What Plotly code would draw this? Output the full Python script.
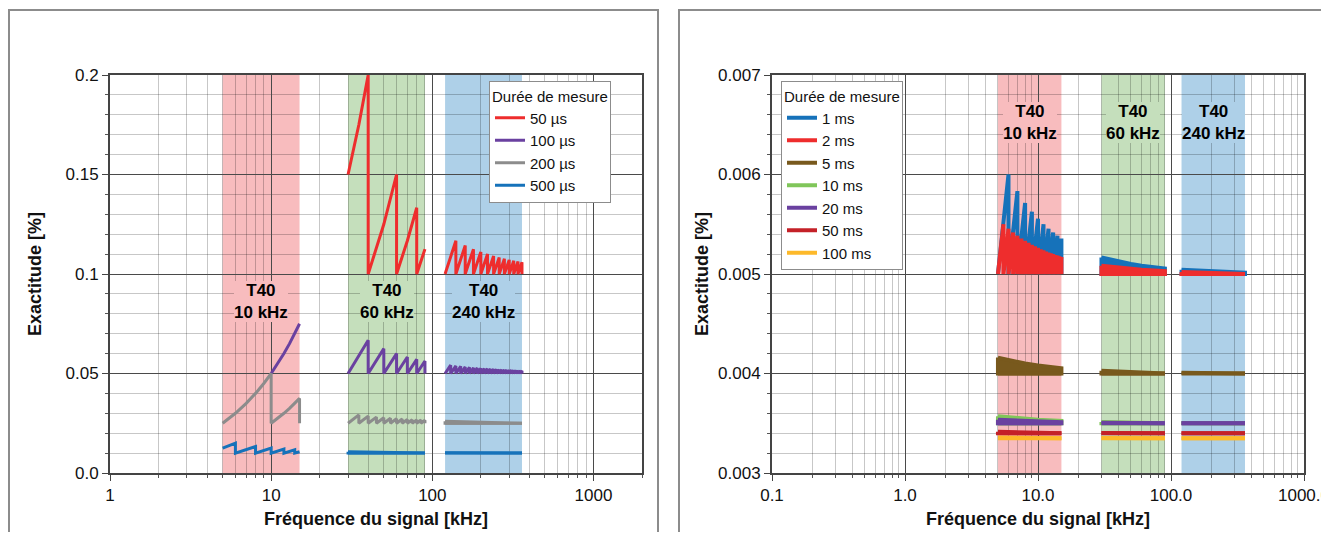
import math
import plotly.graph_objects as go

FONT = "Liberation Sans, Arial, Helvetica, sans-serif"

# ---------------- shared: T40 frequency bands (kHz) ----------------
band_lo = [5, 30, 120]
band_hi = [15, 90, 360]
band_labels = ["T40<br>10 kHz", "T40<br>60 kHz", "T40<br>240 kHz"]
band_colors = ["#F8BCBE", "#C5DFBC", "#AED0E8"]

# ---------------- axis ticks ----------------
left_xtick_vals = [1, 10, 100, 1000]
left_xtick_text = ["1", "10", "100", "1000"]
left_ytick_vals = [0, 0.05, 0.1, 0.15, 0.2]
left_ytick_text = ["0.0", "0.05", "0.1", "0.15", "0.2"]
right_xtick_vals = [0.1, 1, 10, 100, 1000]
right_xtick_text = ["0.1", "1.0", "10.0", "100.0", "1000.0"]
right_ytick_vals = [0.003, 0.004, 0.005, 0.006, 0.007]
right_ytick_text = ["0.003", "0.004", "0.005", "0.006", "0.007"]

# ---------------- left panel: µs durations ----------------
left_names = ["50 µs", "100 µs", "200 µs", "500 µs"]
left_colors = ["#EE2D2D", "#6A41A0", "#8C8C8C", "#1672BA"]

us50_base = 0.1
us50_g_x = [30, 35, 40, 40, 50, 60, 60, 70, 80, 80, 90]
us50_g_y = [0.15, 0.175, 0.2, 0.1, 0.125, 0.15, 0.1, 0.1167, 0.1333, 0.1, 0.1125]
us50_b_drops = [140, 160, 180, 200, 220, 240, 260, 280, 300, 320, 340, 360]
us50_b_peaks = [0.1167, 0.1143, 0.1125, 0.1111, 0.11, 0.1091, 0.1083, 0.1077,
                0.1071, 0.1067, 0.1063, 0.1059]

us100_base = 0.05
us100_r_x = [10, 11, 12, 13, 14, 15]
us100_r_y = [0.05, 0.055, 0.06, 0.065, 0.07, 0.075]
us100_g_drops = [40, 50, 60, 70, 80, 90]
us100_g_peaks = [0.0667, 0.0625, 0.06, 0.0583, 0.0571, 0.0563]
us100_b_drops = [130, 140, 150, 160, 170, 180, 190, 200, 210, 220, 230, 240,
                 250, 260, 270, 280, 290, 300, 310, 320, 330, 340, 350, 360]
us100_b_peaks = [0.0542, 0.0538, 0.0536, 0.0533, 0.0531, 0.0529, 0.0528, 0.0526,
                 0.0525, 0.0524, 0.0523, 0.0522, 0.0521, 0.052, 0.0519, 0.0519,
                 0.0518, 0.0517, 0.0517, 0.0516, 0.0516, 0.0515, 0.0515, 0.0514]

us200_base = 0.025
us200_r_x = [5, 6, 7, 8, 9, 10, 10, 11, 12, 13, 14, 15, 15]
us200_r_y = [0.025, 0.03, 0.035, 0.04, 0.045, 0.05, 0.025, 0.0275, 0.03, 0.0325,
             0.035, 0.0375, 0.025]
us200_g_drops = [35, 40, 45, 50, 55, 60, 65, 70, 75, 80, 85, 90]
us200_g_peaks = [0.0292, 0.0286, 0.0281, 0.0278, 0.0275, 0.0273, 0.0271, 0.0269,
                 0.0268, 0.0267, 0.0266, 0.0265]
us200_b_env_f = [120, 180, 240, 360]
us200_b_env_top = [0.0260, 0.0257, 0.0255, 0.0253]

us500_base = 0.01
us500_r_start = 0.0125
us500_r_drops = [6, 8, 10, 12, 14]
us500_r_peaks = [0.015, 0.0133, 0.0125, 0.012, 0.0117]
us500_r_end = 0.0107
us500_g_env_f = [30, 45, 60, 90]
us500_g_env_top = [0.0107, 0.0104, 0.0103, 0.0102]
us500_b_env_f = [120, 240, 360]
us500_b_env_top = [0.0102, 0.0101, 0.0101]

# ---------------- right panel: ms durations ----------------
right_names = ["1 ms", "2 ms", "5 ms", "10 ms", "20 ms", "50 ms", "100 ms"]
right_colors = ["#1672BA", "#EE2D2D", "#78591D", "#80C65A", "#6A41A0", "#C42128", "#FDB92A"]

ms1_base = 0.005
ms1_r_drops = [6, 7, 8, 9, 10, 11, 12, 13, 14, 15]
ms1_r_peaks = [0.006, 0.005833, 0.005714, 0.005625, 0.005556, 0.0055, 0.005455,
               0.005417, 0.005385, 0.005357]
ms1_g_env_f = [30, 40, 50, 60, 70, 80, 90]
ms1_g_env_top = [0.005167, 0.005125, 0.0051, 0.005083, 0.005071, 0.005063, 0.005056]
ms1_b_env_f = [120, 180, 240, 360]
ms1_b_env_top = [0.005042, 0.005028, 0.005021, 0.005014]

ms2_base = 0.005
ms2_r_drops = [5.5, 6, 6.5, 7, 7.5, 8, 8.5, 9, 9.5, 10, 10.5, 11, 11.5, 12, 12.5,
               13, 13.5, 14, 14.5, 15]
ms2_r_peaks = [0.0055, 0.005455, 0.005417, 0.005385, 0.005357, 0.005333, 0.005313,
               0.005294, 0.005278, 0.005263, 0.00525, 0.005238, 0.005227, 0.005217,
               0.005208, 0.0052, 0.005192, 0.005185, 0.005179, 0.005172]
ms2_g_env_f = [30, 45, 60, 90]
ms2_g_env_top = [0.005083, 0.005056, 0.005042, 0.005028]
ms2_b_env_f = [120, 240, 360]
ms2_b_env_top = [0.005021, 0.00501, 0.005007]

ms5_base = 0.004
ms5_r_env_f = [5, 6, 7, 8, 10, 12, 15]
ms5_r_env_top = [0.00416, 0.004133, 0.004114, 0.0041, 0.00408, 0.004067, 0.004053]
ms5_g_env_f = [30, 60, 90]
ms5_g_env_top = [0.004027, 0.004013, 0.004009]
ms5_b_env_f = [120, 360]
ms5_b_env_top = [0.004007, 0.004002]

ms10_base = 0.0035
ms10_r_env_f = [5, 7, 10, 15]
ms10_r_env_top = [0.00357, 0.00355, 0.003535, 0.003523]
ms10_g_env_f = [30, 90]
ms10_g_env_top = [0.003512, 0.003504]
ms10_b_env_f = [120, 360]
ms10_b_env_top = [0.003503, 0.003501]

ms20_base = 0.0035
ms20_r_env_f = [5, 7, 10, 15]
ms20_r_env_top = [0.003535, 0.003525, 0.003518, 0.003512]
ms20_g_env_f = [30, 90]
ms20_g_env_top = [0.003506, 0.003502]
ms20_b_env_f = [120, 360]
ms20_b_env_top = [0.003501, 0.0035]

ms50_base = 0.0034
ms50_r_env_f = [5, 15]
ms50_r_env_top = [0.003414, 0.003405]
ms50_g_env_f = [30, 90]
ms50_g_env_top = [0.003402, 0.003401]
ms50_b_env_f = [120, 360]
ms50_b_env_top = [0.0034, 0.0034]

ms100_base = 0.00335
ms100_r_env_f = [5, 15]
ms100_r_env_top = [0.003357, 0.003352]
ms100_g_env_f = [30, 90]
ms100_g_env_top = [0.003351, 0.00335]
ms100_b_env_f = [120, 360]
ms100_b_env_top = [0.00335, 0.00335]


# ---------------- helpers (build paths from the data lists) ----------------
def saw(f0, y0, base, drops, peaks, f_end=None, y_end=None):
    xs, ys = [f0], [y0]
    for f, p in zip(drops, peaks):
        xs += [f, f]
        ys += [p, base]
    if f_end is not None:
        xs.append(f_end)
        ys.append(y_end)
    return xs, ys


def env_poly(fs, top, base):
    xs = list(fs) + list(fs[::-1]) + [fs[0]]
    ys = list(top) + [base] * len(fs) + [top[0]]
    return xs, ys


def join(segs):
    xs, ys = [], []
    for sx, sy in segs:
        if xs:
            xs.append(None)
            ys.append(None)
        xs += list(sx)
        ys += list(sy)
    return xs, ys


fig = go.Figure()


def add_series(name, color, width, line_segs, env_segs, base, xa, ya, legend):
    segs = list(line_segs) + [([f[0], f[-1]], [base, base]) for f, _ in env_segs]
    lx, ly = join(segs)
    fig.add_trace(go.Scatter(
        x=lx, y=ly, mode="lines", name=name, legendgroup=name, legend=legend,
        line=dict(color=color, width=width), xaxis=xa, yaxis=ya,
        connectgaps=False, hoverinfo="skip"))
    if env_segs:
        px_, py_ = join([env_poly(f, t, base) for f, t in env_segs])
        fig.add_trace(go.Scatter(
            x=px_, y=py_, mode="lines", fill="toself", fillcolor=color,
            line=dict(color=color, width=width), showlegend=False,
            legendgroup=name, legend=legend, xaxis=xa, yaxis=ya, hoverinfo="skip"))


LW_L = 3
LW_R = 4

add_series(left_names[0], left_colors[0], LW_L,
           [(us50_g_x, us50_g_y),
            saw(120, us50_base, us50_base, us50_b_drops, us50_b_peaks)],
           [], us50_base, "x", "y", "legend")
add_series(left_names[1], left_colors[1], LW_L,
           [(us100_r_x, us100_r_y),
            saw(30, us100_base, us100_base, us100_g_drops, us100_g_peaks),
            saw(120, us100_base, us100_base, us100_b_drops, us100_b_peaks)],
           [], us100_base, "x", "y", "legend")
add_series(left_names[2], left_colors[2], LW_L,
           [(us200_r_x, us200_r_y),
            saw(30, us200_base, us200_base, us200_g_drops, us200_g_peaks)],
           [(us200_b_env_f, us200_b_env_top)], us200_base, "x", "y", "legend")
add_series(left_names[3], left_colors[3], LW_L,
           [saw(5, us500_r_start, us500_base, us500_r_drops, us500_r_peaks, 15, us500_r_end)],
           [(us500_g_env_f, us500_g_env_top), (us500_b_env_f, us500_b_env_top)],
           us500_base, "x", "y", "legend")

add_series(right_names[0], right_colors[0], LW_R,
           [saw(5, ms1_base, ms1_base, ms1_r_drops, ms1_r_peaks)],
           [(ms1_g_env_f, ms1_g_env_top), (ms1_b_env_f, ms1_b_env_top)],
           ms1_base, "x2", "y2", "legend2")
add_series(right_names[1], right_colors[1], LW_R,
           [saw(5, ms2_base, ms2_base, ms2_r_drops, ms2_r_peaks)],
           [(ms2_g_env_f, ms2_g_env_top), (ms2_b_env_f, ms2_b_env_top)],
           ms2_base, "x2", "y2", "legend2")
add_series(right_names[2], right_colors[2], LW_R, [],
           [(ms5_r_env_f, ms5_r_env_top), (ms5_g_env_f, ms5_g_env_top), (ms5_b_env_f, ms5_b_env_top)],
           ms5_base, "x2", "y2", "legend2")
add_series(right_names[3], right_colors[3], LW_R, [],
           [(ms10_r_env_f, ms10_r_env_top), (ms10_g_env_f, ms10_g_env_top), (ms10_b_env_f, ms10_b_env_top)],
           ms10_base, "x2", "y2", "legend2")
add_series(right_names[4], right_colors[4], LW_R, [],
           [(ms20_r_env_f, ms20_r_env_top), (ms20_g_env_f, ms20_g_env_top), (ms20_b_env_f, ms20_b_env_top)],
           ms20_base, "x2", "y2", "legend2")
add_series(right_names[5], right_colors[5], LW_R, [],
           [(ms50_r_env_f, ms50_r_env_top), (ms50_g_env_f, ms50_g_env_top), (ms50_b_env_f, ms50_b_env_top)],
           ms50_base, "x2", "y2", "legend2")
add_series(right_names[6], right_colors[6], LW_R, [],
           [(ms100_r_env_f, ms100_r_env_top), (ms100_g_env_f, ms100_g_env_top), (ms100_b_env_f, ms100_b_env_top)],
           ms100_base, "x2", "y2", "legend2")

# ---------------- layout geometry ----------------
# the page body keeps its default 8px margin; the figure fills the rest exactly
OFF = 8
W, H = 1329 - 2 * OFF, 540 - 2 * OFF


def px(xr):
    return (xr - OFF) / W


def py(yr):
    return 1 - (yr - OFF) / H


shapes = []
annotations = []
for xr, yr, ylab in (("x", "y", 0.086), ("x2", "y2", 0.006521)):
    for lo, hi, lab, col in zip(band_lo, band_hi, band_labels, band_colors):
        shapes.append(dict(type="rect", xref=xr, yref=yr + " domain", x0=lo, x1=hi,
                           y0=0, y1=1, fillcolor=col, line=dict(width=0), layer="below"))
        annotations.append(dict(xref=xr, yref=yr, x=math.log10(math.sqrt(lo * hi)), y=ylab,
                                text="<b>" + lab + "</b>", showarrow=False, bgcolor=col,
                                borderpad=0, borderwidth=0,
                                font=dict(size=17, color="#000", family=FONT)))

frame = dict(color="#8C8C8C", width=2)
shapes.append(dict(type="rect", xref="paper", yref="paper", x0=px(9), x1=px(658),
                   y0=-0.2, y1=py(10), line=frame, fillcolor="rgba(0,0,0,0)", layer="above"))
shapes.append(dict(type="rect", xref="paper", yref="paper", x0=px(679), x1=1.2,
                   y0=-0.2, y1=py(10), line=frame, fillcolor="rgba(0,0,0,0)", layer="above"))

MAJOR = "#4A4A4A"
MINOR = "rgba(0,0,0,0.22)"
ydom = [py(473), py(75)]


def xaxis_cfg(domain, rng, tv, tt, anchor):
    return dict(type="log", domain=domain, range=rng, anchor=anchor, automargin=False,
                tickmode="array", tickvals=tv, ticktext=tt, ticklabeloverflow="allow",
                ticks="outside", ticklen=6, tickcolor="#444", tickwidth=1,
                showline=True, linecolor="#444", linewidth=2, mirror=True,
                showgrid=True, gridcolor=MAJOR, gridwidth=1, zeroline=False,
                tickfont=dict(size=17, color="#111"),
                minor=dict(dtick="D1", showgrid=True, gridcolor=MINOR, gridwidth=1,
                           ticks="outside", ticklen=3, tickcolor="#555"),
                title=dict(text="<b>Fréquence du signal [kHz]</b>", font=dict(size=18, color="#111"),
                           standoff=8))


def yaxis_cfg(rng, tv, tt, mdt, anchor, standoff):
    return dict(domain=ydom, range=rng, anchor=anchor, automargin=False,
                tickmode="array", tickvals=tv, ticktext=tt, ticklabeloverflow="allow",
                ticks="outside", ticklen=6, tickcolor="#444", tickwidth=1,
                showline=True, linecolor="#444", linewidth=2, mirror=True,
                showgrid=True, gridcolor=MAJOR, gridwidth=1, zeroline=False,
                tickfont=dict(size=17, color="#111"),
                minor=dict(dtick=mdt, showgrid=True, gridcolor=MINOR, gridwidth=1,
                           ticks="outside", ticklen=3, tickcolor="#555"),
                title=dict(text="<b>Exactitude [%]</b>", font=dict(size=18, color="#111"),
                           standoff=standoff))


legend_common = dict(xanchor="left", yanchor="top", bgcolor="white", bordercolor="#8C8C8C",
                     borderwidth=1, font=dict(size=15, color="#111", family=FONT),
                     tracegroupgap=0, traceorder="normal",
                     title=dict(text="Durée de mesure", font=dict(size=15, color="#111")))

fig.update_layout(
    width=W, height=H, margin=dict(l=0, r=0, t=0, b=0, autoexpand=False),
    paper_bgcolor="white", plot_bgcolor="white",
    font=dict(family=FONT, color="#111"),
    xaxis=xaxis_cfg([px(110), px(642)], [0, math.log10(2000)], left_xtick_vals, left_xtick_text, "y"),
    yaxis=yaxis_cfg([0, 0.2], left_ytick_vals, left_ytick_text, 0.01, "x", 19),
    xaxis2=xaxis_cfg([px(772), px(1304)], [-1, 3], right_xtick_vals, right_xtick_text, "y2"),
    yaxis2=yaxis_cfg([0.003, 0.007], right_ytick_vals, right_ytick_text, 0.0002, "x2", 5),
    legend=dict(x=px(489), y=py(81), **legend_common),
    legend2=dict(x=px(781), y=py(81), **legend_common),
    shapes=shapes, annotations=annotations, showlegend=True,
)

fig.write_html("out.html", config={"displayModeBar": False})
